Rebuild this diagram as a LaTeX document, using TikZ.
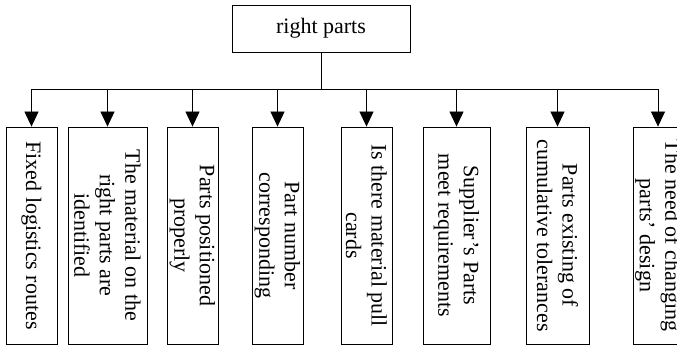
\documentclass[tikz,border=0pt]{standalone}
\usepackage{fontspec}
\setmainfont{Liberation Serif}
\usetikzlibrary{arrows.meta}

\begin{document}
\begin{tikzpicture}[x=1pt,y=1pt,line width=0.8pt,>={Triangle[length=15pt,width=14pt]},
  every node/.style={draw=black,inner sep=0pt,align=center,font=\fontsize{22}{25.5}\selectfont},
  factor/.style={rotate=-90,minimum width=217pt,minimum height=51pt}]
\useasboundingbox (0,0) rectangle (677,347);
\node (0)[minimum width=178pt,minimum height=47pt] at (321,318.5) {right parts};
\node (1)[factor] at (31.5,111.5) {Fixed logistics routes};
\node (2)[factor,minimum height=79pt] at (107.5,111.5) {The material on the\\right parts are\\identified};
\node (3)[factor] at (192.5,111.5) {Parts positioned\\properly};
\node (4)[factor] at (277.5,111.5) {Part number\\corresponding};
\node (5)[factor] at (366.5,111.5) {Is there material pull\\cards};
\node (6)[factor,minimum height=67pt] at (456.5,111.5) {Supplier’s Parts\\meet requirements};
\node (7)[factor,minimum height=63pt] at (557.5,111.5) {Parts existing of\\cumulative tolerances};
\node (8)[factor,minimum height=50pt] at (658,111.5) {The need of changing\\parts’ design};
\coordinate (bus) at (321,258);

\draw (0.south) -- (bus);
\draw (bus -| 1.west) -- (bus -| 8.west);
\draw[->] (bus -| 1.west) -- (1.west);
\draw[->] (bus -| 2.west) -- (2.west);
\draw[->] (bus -| 3.west) -- (3.west);
\draw[->] (bus -| 4.west) -- (4.west);
\draw[->] (bus -| 5.west) -- (5.west);
\draw[->] (bus -| 6.west) -- (6.west);
\draw[->] (bus -| 7.west) -- (7.west);
\draw[->] (bus -| 8.west) -- (8.west);
\end{tikzpicture}
\end{document}
